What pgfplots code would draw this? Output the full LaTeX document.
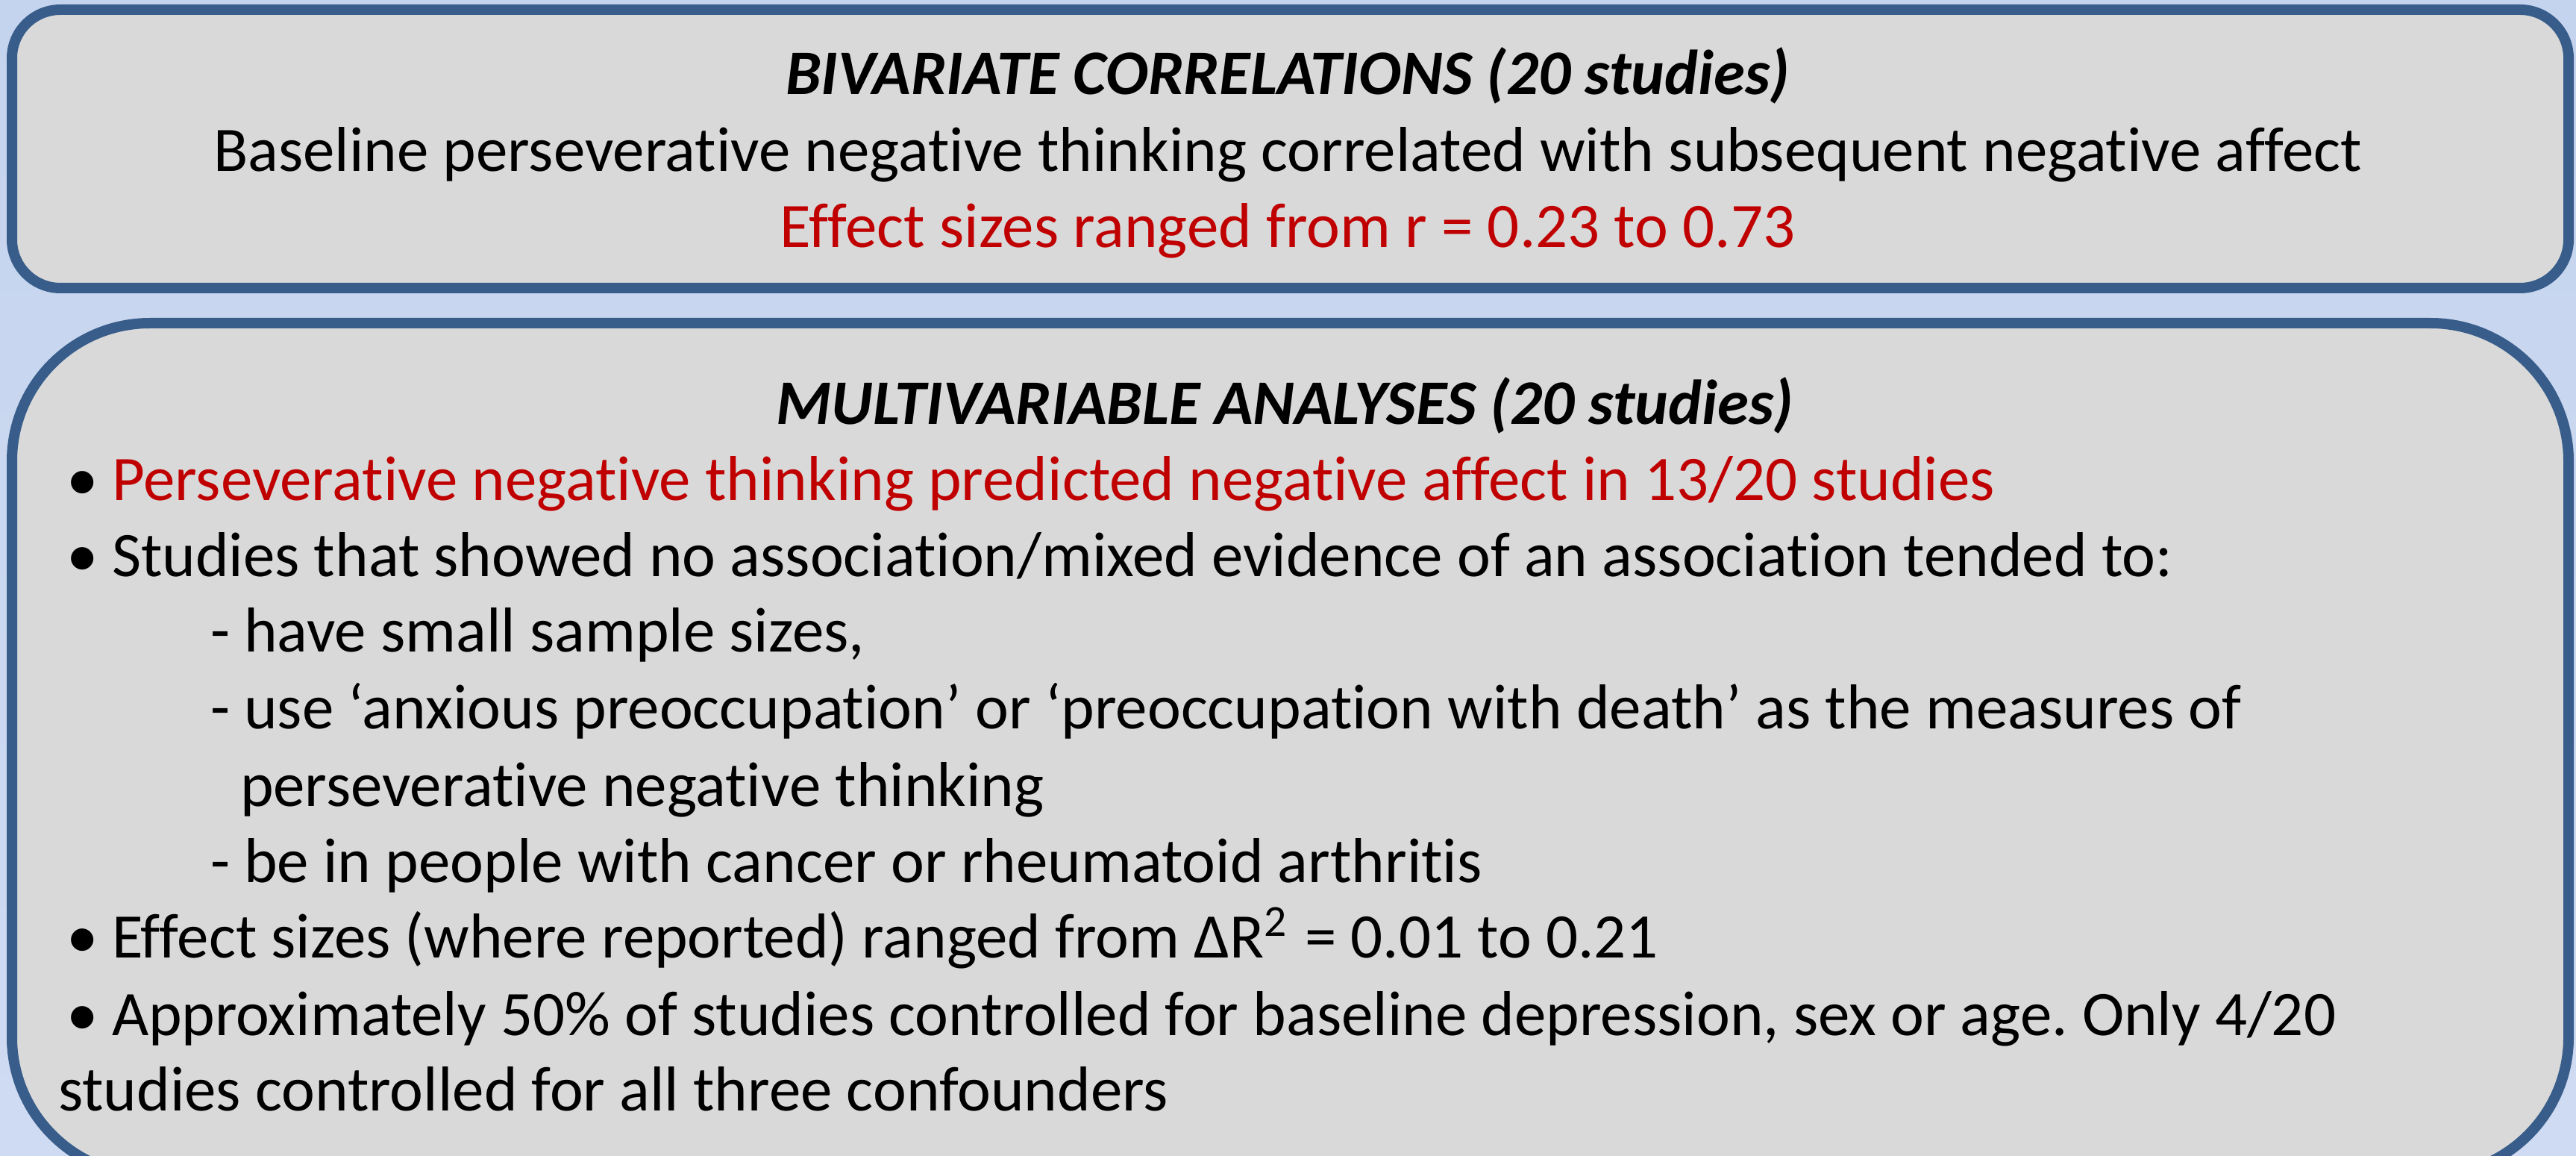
\documentclass[border=0pt]{standalone}
\usepackage{fontspec}
\setmainfont{Carlito}[Ligatures={NoCommon}]
\usepackage{pgfplots}
\pgfplotsset{compat=1.18}
\frenchspacing
\definecolor{bgtop}{HTML}{C5D4EE}
\definecolor{bgbot}{HTML}{CFDBF2}
\definecolor{boxborder}{HTML}{385D8A}
\definecolor{boxgray}{HTML}{D9D9D9}
\definecolor{redtxt}{HTML}{C00000}
\tikzset{
  t/.style={inner sep=0pt, outer sep=0pt, font=\fontsize{8.5pt}{10.2pt}\selectfont},
  tl/.style={t, anchor=base west},
  tc/.style={t, anchor=base},
  tb/.style={tc, font=\fontsize{8.5pt}{10.2pt}\selectfont\bfseries\itshape}
}
\begin{document}
\begin{tikzpicture}
\begin{axis}[width=345.3pt, height=154.9pt, scale only axis,
  xmin=0, xmax=3453, ymin=0, ymax=1549, y dir=reverse,
  axis lines=none, ticks=none, clip=true,
  axis background/.style={shade, top color=bgtop, bottom color=bgbot}]
% boxes
\draw[line width=1.4pt, draw=boxborder, fill=boxgray, rounded corners=6.5pt]
  (axis cs:16,13) rectangle (axis cs:3443,386);
\draw[line width=1.4pt, draw=boxborder, fill=boxgray, rounded corners=18.5pt]
  (axis cs:16,433) rectangle (axis cs:3443,1575);
% top box text
\node[tb] at (axis cs:1726,127) {BIVARIATE CORRELATIONS (20 studies)};
\node[tc] at (axis cs:1726,230) {Baseline perseverative negative thinking correlated with subsequent negative affect};
\node[tc, text=redtxt] at (axis cs:1726,332) {Effect sizes ranged from r = 0.23 to 0.73};
% bottom box text
\node[tb] at (axis cs:1722,568) {MULTIVARIABLE ANALYSES (20 studies)};
\node[tl] at (axis cs:90,670) {•};
\node[tl, text=redtxt] at (axis cs:150,670) {Perseverative negative thinking predicted negative affect in 13/20 studies};
\node[tl] at (axis cs:90,772) {•};
\node[tl] at (axis cs:150,772) {Studies that showed no association/mixed evidence of an association tended to:};
\node[tl] at (axis cs:282,873) {- have small sample sizes,};
\node[tl] at (axis cs:282,977) {- use ‘anxious preoccupation’ or ‘preoccupation with death’ as the measures of};
\node[tl] at (axis cs:322,1080) {perseverative negative thinking};
\node[tl] at (axis cs:282,1182) {- be in people with cancer or rheumatoid arthritis};
\node[tl] at (axis cs:90,1283) {•};
\node[tl] at (axis cs:150,1283) {Effect sizes (where reported) ranged from ΔR\textsuperscript{2} = 0.01 to 0.21};
\node[tl] at (axis cs:90,1387) {•};
\node[tl] at (axis cs:150,1387) {Approximately 50\% of studies controlled for baseline depression, sex or age. Only 4/20};
\node[tl] at (axis cs:78,1488) {studies controlled for all three confounders};
\end{axis}
\pgfresetboundingbox
\path[use as bounding box] (current axis.south west) rectangle (current axis.north east);
\end{tikzpicture}
\end{document}
